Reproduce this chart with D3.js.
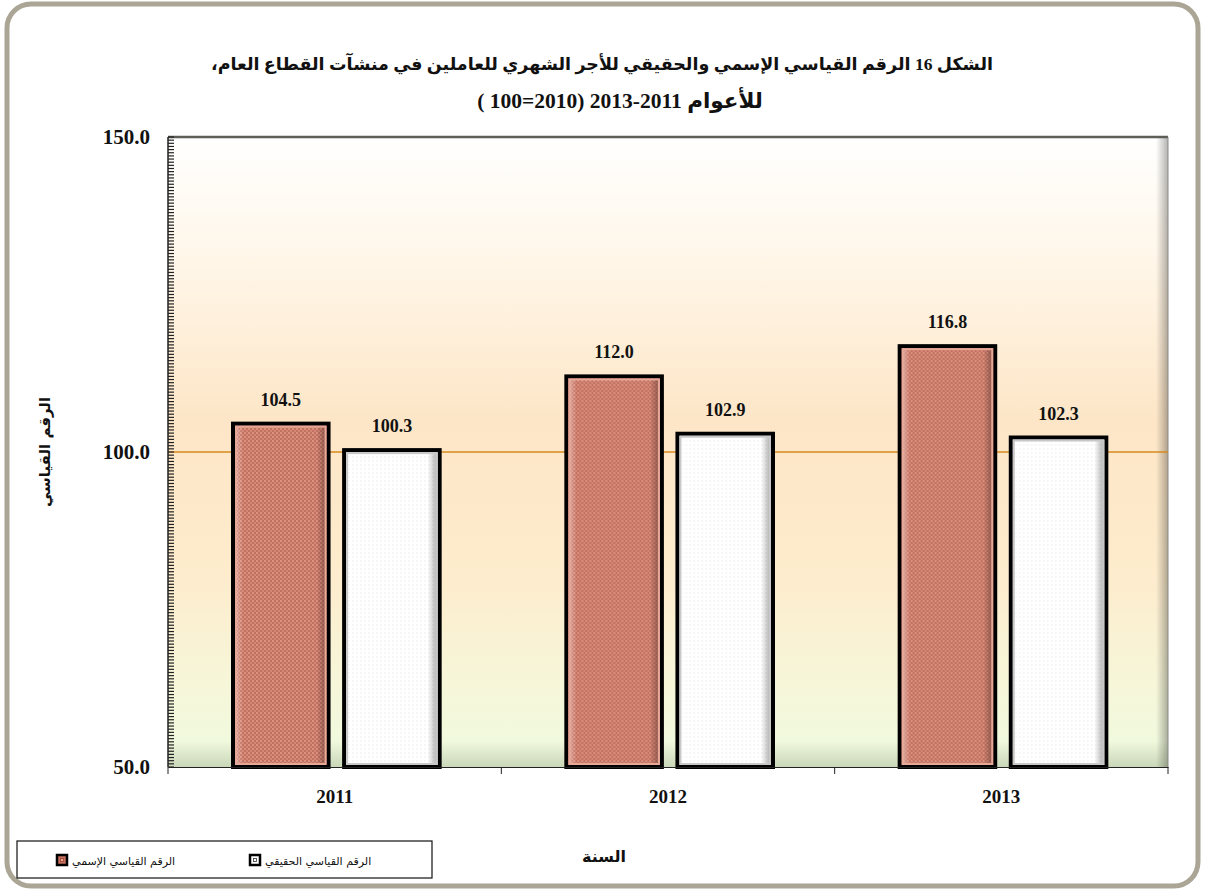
<!DOCTYPE html>
<html>
<head>
<meta charset="utf-8">
<script src="https://cdn.jsdelivr.net/npm/d3@7"></script>
<style>
  body { margin: 0; background: #fff; }
  svg { display: block; }
</style>
</head>
<body>
<div id="chart"></div>
<script>
const years = ["2011", "2012", "2013"];
const seriesNames = ["الرقم القياسي الإسمي", "الرقم القياسي الحقيقي"];
const nominal = [104.5, 112.0, 116.8];
const real = [100.3, 102.9, 102.3];
const yTicks = [50, 100, 150];

const titleLine1 = "الشكل 16 الرقم القياسي الإسمي والحقيقي للأجر الشهري للعاملين في منشآت القطاع العام،";
const titleLine2 = "للأعوام  2011\u200F-\u200F2013 (2010=100 )";
const yTitle = "الرقم القياسي";
const xTitle = "السنة";

const W = 1205, H = 892;
const plot = {left: 168, right: 1168, top: 137, bottom: 767};
const numFont = "'Liberation Serif', 'Times New Roman', serif";
const arFont = "'DejaVu Sans', sans-serif";

const svg = d3.select("#chart").append("svg")
    .attr("width", W)
    .attr("height", H);

const defs = svg.append("defs");

// plot background
const bg = defs.append("linearGradient")
    .attr("id", "bgGrad")
    .attr("x1", 0).attr("y1", 0).attr("x2", 0).attr("y2", 1);
[[0, "#ffffff"], [0.2, "#fff6e8"], [0.45, "#fde6c7"], [0.7, "#fdeccd"], [0.88, "#f6f7da"], [1, "#eefadf"]]
    .forEach(([o, c]) => bg.append("stop").attr("offset", o).attr("stop-color", c));

const sideGrad = defs.append("linearGradient")
    .attr("id", "sideGrad").attr("x1", 0).attr("x2", 1).attr("y1", 0).attr("y2", 0);
sideGrad.append("stop").attr("offset", 0).attr("stop-color", "#000").attr("stop-opacity", 0);
sideGrad.append("stop").attr("offset", 1).attr("stop-color", "#000").attr("stop-opacity", 0.3);

const botGrad = defs.append("linearGradient")
    .attr("id", "botGrad").attr("x1", 0).attr("x2", 0).attr("y1", 0).attr("y2", 1);
botGrad.append("stop").attr("offset", 0).attr("stop-color", "#4a5a30").attr("stop-opacity", 0);
botGrad.append("stop").attr("offset", 1).attr("stop-color", "#4a5a30").attr("stop-opacity", 0.22);

// dotted textures for the bars
const redPat = defs.append("pattern")
    .attr("id", "redDots").attr("patternUnits", "userSpaceOnUse")
    .attr("width", 4).attr("height", 4);
redPat.append("rect").attr("width", 4).attr("height", 4).attr("fill", "#c4705f");
redPat.append("circle").attr("cx", 1).attr("cy", 1).attr("r", 0.9).attr("fill", "#e3a390");
redPat.append("circle").attr("cx", 3).attr("cy", 3).attr("r", 0.9).attr("fill", "#dc9684");

const whitePat = defs.append("pattern")
    .attr("id", "whiteDots").attr("patternUnits", "userSpaceOnUse")
    .attr("width", 4).attr("height", 4);
whitePat.append("rect").attr("width", 4).attr("height", 4).attr("fill", "#ffffff");
whitePat.append("circle").attr("cx", 1).attr("cy", 1).attr("r", 0.8).attr("fill", "#ececec");

const bevel = defs.append("linearGradient")
    .attr("id", "bevel").attr("x1", 0).attr("x2", 1).attr("y1", 0).attr("y2", 0);
bevel.append("stop").attr("offset", 0).attr("stop-color", "#fff").attr("stop-opacity", 0.35);
bevel.append("stop").attr("offset", 0.08).attr("stop-color", "#fff").attr("stop-opacity", 0);
bevel.append("stop").attr("offset", 0.9).attr("stop-color", "#000").attr("stop-opacity", 0);
bevel.append("stop").attr("offset", 1).attr("stop-color", "#000").attr("stop-opacity", 0.3);

// outer rounded frame
svg.append("rect")
    .attr("x", 7).attr("y", 4)
    .attr("width", 1191).attr("height", 882)
    .attr("rx", 24)
    .attr("fill", "#fff")
    .attr("stroke", "#aba596")
    .attr("stroke-width", 5);

// scales
const x = d3.scaleBand().domain(years).range([plot.left, plot.right]).padding(0);
const bw = x.bandwidth();
const x1 = d3.scaleBand().domain([0, 1]).range([bw * 0.195, bw * 0.815]).paddingInner(0.14);
const y = d3.scaleLinear().domain([50, 150]).range([plot.bottom, plot.top]);

// plot area
svg.append("rect")
    .attr("x", plot.left).attr("y", plot.top)
    .attr("width", plot.right - plot.left).attr("height", plot.bottom - plot.top)
    .attr("fill", "url(#bgGrad)");
svg.append("rect")
    .attr("x", plot.right - 12).attr("y", plot.top)
    .attr("width", 12).attr("height", plot.bottom - plot.top)
    .attr("fill", "url(#sideGrad)");
svg.append("rect")
    .attr("x", plot.left).attr("y", plot.bottom - 26)
    .attr("width", plot.right - plot.left).attr("height", 26)
    .attr("fill", "url(#botGrad)");
svg.append("line")
    .attr("x1", plot.left).attr("x2", plot.right)
    .attr("y1", plot.top).attr("y2", plot.top)
    .attr("stroke", "#5e5e58").attr("stroke-width", 2.5);
svg.append("line")
    .attr("x1", plot.right).attr("x2", plot.right)
    .attr("y1", plot.top).attr("y2", plot.bottom)
    .attr("stroke", "#8a8a84").attr("stroke-width", 1);

// reference line at 100
svg.append("line")
    .attr("x1", plot.left).attr("x2", plot.right)
    .attr("y1", y(100)).attr("y2", y(100))
    .attr("stroke", "#d68a1c").attr("stroke-width", 1.6);

// bars
const data = years.map((yr, i) => ({year: yr, values: [nominal[i], real[i]]}));
const groups = svg.selectAll("g.year")
    .data(data)
    .join("g")
    .attr("class", "year")
    .attr("transform", d => `translate(${x(d.year)},0)`);

const bars = groups.selectAll("g.bar")
    .data(d => d.values.map((v, k) => ({k, v})))
    .join("g")
    .attr("class", "bar");

bars.append("rect")
    .attr("x", d => x1(d.k))
    .attr("y", d => y(d.v))
    .attr("width", x1.bandwidth())
    .attr("height", d => y(50) - y(d.v))
    .attr("fill", d => d.k === 0 ? "url(#redDots)" : "url(#whiteDots)")
    .attr("stroke", "#000")
    .attr("stroke-width", 4);

bars.append("rect")
    .attr("x", d => x1(d.k) + 3)
    .attr("y", d => y(d.v) + 3)
    .attr("width", x1.bandwidth() - 6)
    .attr("height", d => y(50) - y(d.v) - 6)
    .attr("fill", "url(#bevel)")
    .attr("stroke", d => d.k === 0 ? "#e8a898" : "#c8c8c8")
    .attr("stroke-width", 2);

bars.append("text")
    .attr("x", d => x1(d.k) + x1.bandwidth() / 2)
    .attr("y", d => y(d.v) - 18)
    .attr("text-anchor", "middle")
    .attr("font-family", numFont)
    .attr("font-weight", "bold")
    .attr("font-size", 18)
    .attr("fill", "#111")
    .text(d => d.v.toFixed(1));

// y axis
const yAxis = svg.append("g");
yAxis.append("line")
    .attr("x1", plot.left).attr("x2", plot.left)
    .attr("y1", plot.top).attr("y2", plot.bottom)
    .attr("stroke", "#222").attr("stroke-width", 1.5);
yAxis.selectAll("line.minor")
    .data(d3.range(50, 150.01, 0.5))
    .join("line")
    .attr("class", "minor")
    .attr("x1", plot.left).attr("x2", plot.left + 6)
    .attr("y1", d => y(d)).attr("y2", d => y(d))
    .attr("stroke", "#222").attr("stroke-width", 1.2);
yAxis.selectAll("text")
    .data(yTicks)
    .join("text")
    .attr("x", plot.left - 18)
    .attr("y", d => y(d))
    .attr("dy", "0.35em")
    .attr("text-anchor", "end")
    .attr("font-family", numFont)
    .attr("font-weight", "bold")
    .attr("font-size", 21)
    .attr("fill", "#111")
    .text(d => d.toFixed(1));

// x axis
const xAxis = svg.append("g")
    .attr("transform", `translate(0,${plot.bottom})`)
    .call(d3.axisBottom(x).tickSize(0).tickPadding(23));
xAxis.select(".domain").attr("stroke", "#222").attr("stroke-width", 1.2);
xAxis.selectAll("text")
    .attr("font-family", numFont)
    .attr("font-weight", "bold")
    .attr("font-size", 19)
    .attr("fill", "#111");
xAxis.selectAll("line.sep")
    .data([...years.map(d => x(d)), plot.right])
    .join("line")
    .attr("class", "sep")
    .attr("x1", d => d).attr("x2", d => d)
    .attr("y1", 0).attr("y2", 7)
    .attr("stroke", "#222").attr("stroke-width", 1);

// titles
const title = svg.append("g")
    .attr("font-family", `${numFont.split(",")[0]}, ${arFont}`)
    .attr("font-weight", "bold")
    .attr("fill", "#111")
    .attr("text-anchor", "middle");
title.append("text")
    .attr("x", 602).attr("y", 70)
    .attr("direction", "rtl")
    .attr("font-size", 17.5)
    .text(titleLine1);
title.append("text")
    .attr("x", 620).attr("y", 108)
    .attr("direction", "rtl")
    .attr("font-size", 21.5)
    .text(titleLine2);

svg.append("text")
    .attr("transform", `translate(50,${y(100)}) rotate(-90)`)
    .attr("text-anchor", "middle")
    .attr("direction", "rtl")
    .attr("font-family", arFont)
    .attr("font-weight", "bold")
    .attr("font-size", 15)
    .attr("fill", "#111")
    .text(yTitle);

svg.append("text")
    .attr("x", 604).attr("y", 862)
    .attr("text-anchor", "middle")
    .attr("direction", "rtl")
    .attr("font-family", arFont)
    .attr("font-weight", "bold")
    .attr("font-size", 16)
    .attr("fill", "#111")
    .text(xTitle);

// legend
const legend = svg.append("g");
legend.append("rect")
    .attr("x", 17).attr("y", 841)
    .attr("width", 415).attr("height", 37)
    .attr("fill", "#fff")
    .attr("stroke", "#111").attr("stroke-width", 1.2);

const legendItems = [
    {name: seriesNames[0], fill: "#c4705f", inner: "#e8a494", mx: 62},
    {name: seriesNames[1], fill: "#ffffff", inner: "#ffffff", mx: 255}
];
const li = legend.selectAll("g.item")
    .data(legendItems)
    .join("g")
    .attr("class", "item");
li.append("rect")
    .attr("x", d => d.mx - 5).attr("y", 855)
    .attr("width", 10).attr("height", 10)
    .attr("fill", d => d.fill)
    .attr("stroke", "#000").attr("stroke-width", 2.5);
li.append("rect")
    .attr("x", d => d.mx - 1.5).attr("y", 858.5)
    .attr("width", 3).attr("height", 3)
    .attr("fill", d => d.inner)
    .attr("stroke", d => d.inner === "#ffffff" ? "#333" : "#a04030")
    .attr("stroke-width", 0.8);
li.append("text")
    .attr("x", d => d.mx + 10).attr("y", 865)
    .attr("text-anchor", "end")
    .attr("direction", "rtl")
    .attr("font-family", arFont)
    .attr("font-size", 11)
    .attr("fill", "#111")
    .text(d => d.name);
</script>
</body>
</html>
